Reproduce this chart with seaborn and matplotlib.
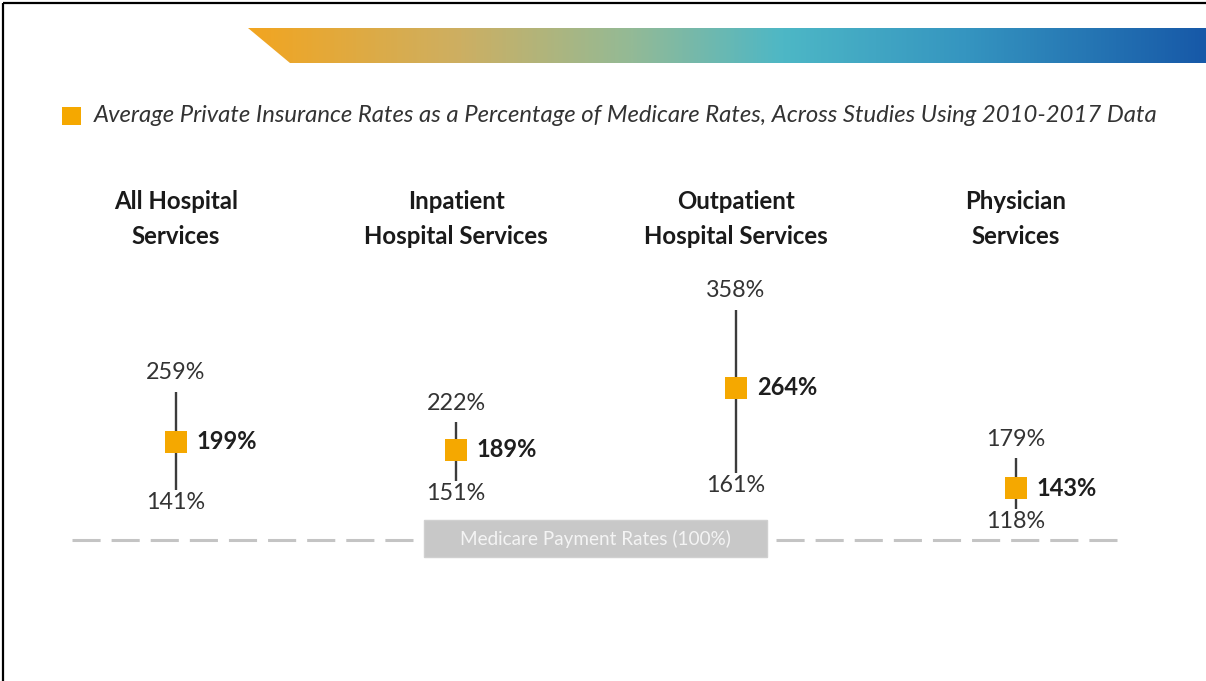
import numpy as np
import matplotlib
matplotlib.use("Agg")
import matplotlib.pyplot as plt
from matplotlib.colors import LinearSegmentedColormap
from matplotlib.patches import Polygon, Rectangle
import seaborn as sns
import pandas as pd

# ---------------- data ----------------
categories = ["All Hospital\nServices", "Inpatient\nHospital Services",
              "Outpatient\nHospital Services", "Physician\nServices"]
avg_rates = [199, 189, 264, 143]
low_rates = [141, 151, 161, 118]
high_rates = [259, 222, 358, 179]
legend_label = ("Average Private Insurance Rates as a Percentage of Medicare Rates, "
                "Across Studies Using 2010-2017 Data")
medicare_label = "Medicare Payment Rates (100%)"

# ---------------- style ----------------
sns.set_theme(style="white")
plt.rcParams['font.family'] = ['Lato', 'DejaVu Sans']
GOLD = "#F5A800"
TEXT = "#333333"

W, H = 1206, 681
fig = plt.figure(figsize=(W / 100, H / 100), dpi=100)
fig.patch.set_facecolor("white")

# decoration axes in pixel coordinates
deco = fig.add_axes([0, 0, 1, 1], zorder=0)
deco.set_xlim(0, W)
deco.set_ylim(H, 0)
deco.axis("off")

# frame (top and left border)
deco.plot([3, W], [3, 3], color="black", lw=1.6, solid_capstyle="butt")
deco.plot([3, 3], [3, H], color="black", lw=1.6, solid_capstyle="butt")

# gradient banner
cmap = LinearSegmentedColormap.from_list(
    "banner",
    [(0.0, "#F2A520"), (0.22, "#CDAF62"), (0.40, "#93BA96"),
     (0.56, "#4DB7C6"), (0.75, "#3595C0"), (1.0, "#1759A8")])
grad = np.linspace(0, 1, 512).reshape(1, -1)
im = deco.imshow(grad, cmap=cmap, aspect="auto", extent=(248, W, 63, 28), zorder=1)
poly = Polygon([(248, 28), (W, 28), (W, 63), (290, 63)], closed=True,
               facecolor="none", edgecolor="none", transform=deco.transData)
deco.add_patch(poly)
im.set_clip_path(poly)

# legend
deco.add_patch(Rectangle((62, 107), 19, 18, facecolor=GOLD, edgecolor="none"))
deco.text(94, 116, legend_label, fontsize=17.2, style="italic", color=TEXT,
          va="center", ha="left")

# medicare baseline (dashed) and label box
deco.plot([72, 1128], [540, 540], color="#C4C4C4", lw=2.2, dashes=(9.2, 3.6),
          solid_capstyle="butt", dash_capstyle="butt", zorder=2)
deco.add_patch(Rectangle((424, 520), 343, 37, facecolor="#C8C8C8",
                         edgecolor="#D0D0D0", zorder=3))
deco.text(595.5, 539, medicare_label, fontsize=13.6, color="#F4F4F4",
          ha="center", va="center", zorder=4)

# ---------------- data axes ----------------
ax = fig.add_axes([0, 0, 1, 1], zorder=2)
ax.patch.set_alpha(0)
x_pos = np.arange(len(categories))
ax.set_xlim(-176 / 280, (W - 176) / 280)
ax.set_ylim(-89.5, -89.5 + H / 0.83)
ax.axis("off")

df = pd.DataFrame({"x": x_pos, "avg": avg_rates, "low": low_rates,
                   "high": high_rates, "cat": categories})

ax.vlines(df["x"], df["low"], df["high"], color="#3C3C3C", lw=1.7, zorder=2)
sns.scatterplot(data=df, x="x", y="avg", marker="s", s=250, color=GOLD,
                edgecolor="none", linewidth=0, ax=ax, zorder=3, legend=False)
ax.axis("off")

for xi, a, lo, hi, cat in zip(x_pos, avg_rates, low_rates, high_rates, categories):
    ax.annotate(f"{hi}%", (xi, hi), xytext=(0, 13.5), textcoords="offset points",
                ha="center", va="center", fontsize=16.8, color=TEXT)
    ax.annotate(f"{lo}%", (xi, lo), xytext=(0, -9), textcoords="offset points",
                ha="center", va="center", fontsize=16.8, color=TEXT)
    ax.annotate(f"{a}%", (xi, a), xytext=(15, 0), textcoords="offset points",
                ha="left", va="center", fontsize=17, fontweight="bold",
                color="#1E1E1E")
    # category header in figure pixel coords
    deco.text(176 + 280 * xi, 219, cat, ha="center", va="center",
              fontsize=17.3, fontweight="bold", color="#1A1A1A",
              linespacing=1.58)

fig.savefig("out.png", dpi=100, facecolor="white")
